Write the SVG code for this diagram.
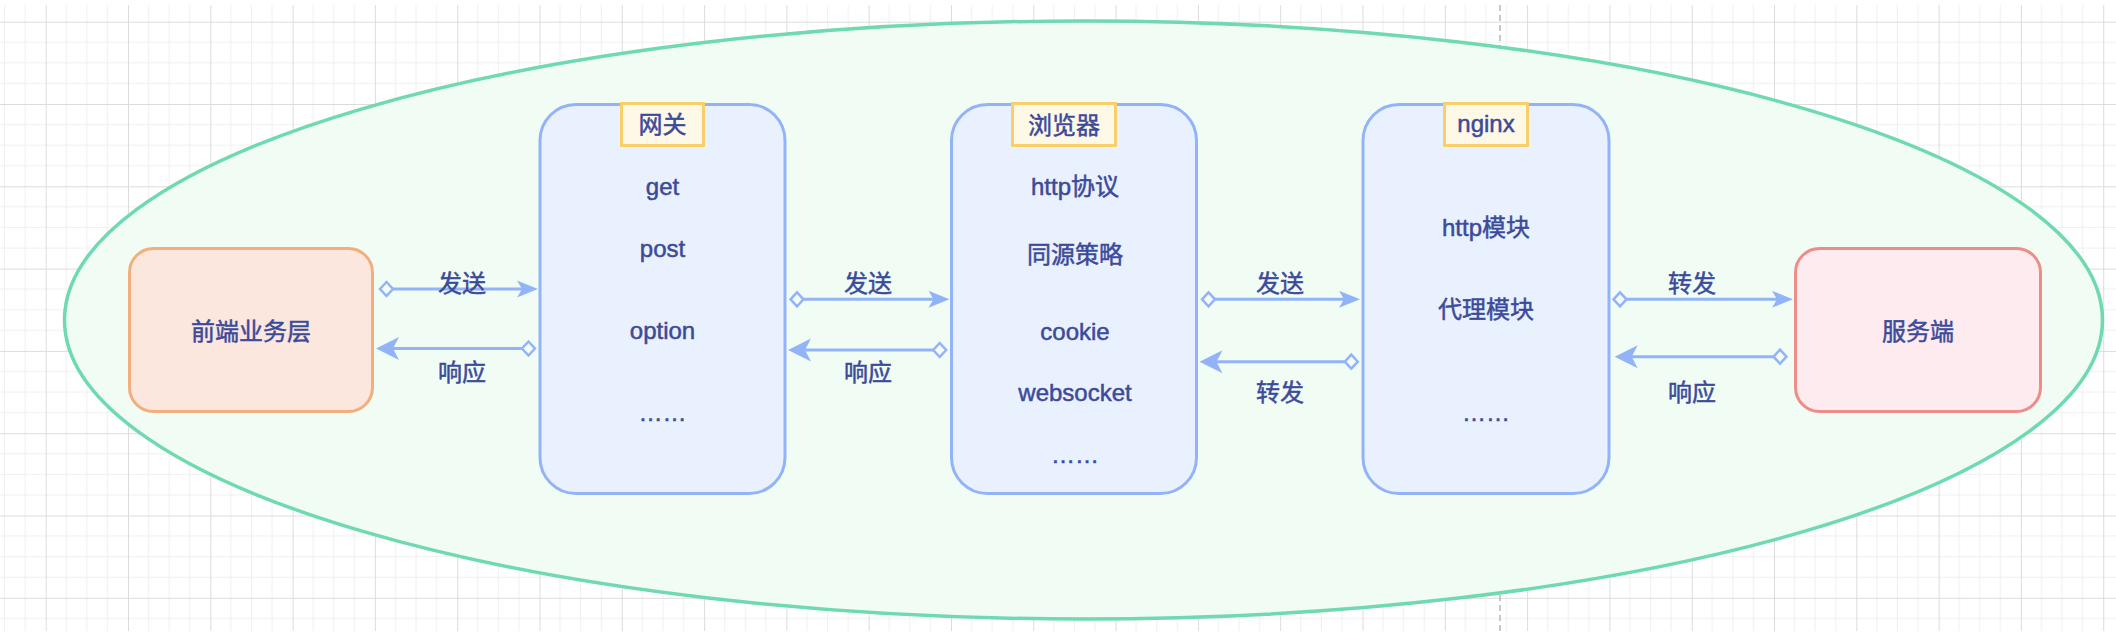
<svg xmlns="http://www.w3.org/2000/svg" width="2116" height="644" viewBox="0 0 2116 644">
  <style>
    .t { font-family: "Liberation Sans", "Noto Sans CJK SC", sans-serif; font-size: 24px; fill: #3c4a9a; stroke: #3c4a9a; stroke-width: 0.5px; text-anchor: middle; }
    .blue { fill: #eaf1fe; stroke: #93b3f8; stroke-width: 3; }
    .tag { fill: #fef8e7; stroke: #f9cf6a; stroke-width: 3; }
    .edge { fill: none; stroke: #93b3f8; stroke-width: 3; marker-start: url(#diamond); }
    .fwd { marker-end: url(#arrowS); }
    .back { marker-end: url(#arrowL); }
  </style>
  <defs>
    <pattern id="grid" patternUnits="userSpaceOnUse" x="45.7" y="21.7" width="82.3" height="82.3">
      <path d="M20.575,0V82.3M41.15,0V82.3M61.725,0V82.3M0,20.575H82.3M0,41.15H82.3M0,61.725H82.3" stroke="#f0f0f0" stroke-width="1" fill="none"/>
      <path d="M0.5,0V82.3M0,0.5H82.3" stroke="#dcdcdc" stroke-width="1" fill="none"/>
    </pattern>
    <marker id="arrowS" markerUnits="userSpaceOnUse" viewBox="0 0 24 20" markerWidth="24" markerHeight="20" refX="12" refY="10" orient="auto">
      <path d="M22,10 L1,1.5 L6,10 L1,18.5 Z" fill="#93b3f8"/>
    </marker>
    <marker id="arrowL" markerUnits="userSpaceOnUse" viewBox="0 0 26 24" markerWidth="26" markerHeight="24" refX="14" refY="12" orient="auto">
      <path d="M24,12 L1,0.5 L7,12 L1,23.5 Z" fill="#93b3f8"/>
    </marker>
    <marker id="diamond" markerUnits="userSpaceOnUse" viewBox="0 0 20 20" markerWidth="20" markerHeight="20" refX="16.5" refY="10" orient="auto">
      <path d="M3.5,10 L10,3 L16.5,10 L10,17 Z" fill="#f4fbf8" stroke="#93b3f8" stroke-width="2.5"/>
    </marker>
  </defs>

  <rect x="0" y="0" width="2116" height="644" fill="#ffffff"/>
  <rect x="0" y="5" width="2116" height="626" fill="url(#grid)"/>
  <line x1="1500" y1="5" x2="1500" y2="631" stroke="#b8b8b8" stroke-width="1.5" stroke-dasharray="6,4"/>

  <g id="container">
    <ellipse cx="1083.5" cy="320" rx="1019" ry="299" fill="#f1fdf4" stroke="#6fd9b1" stroke-width="3.5"/>
  </g>

  <g id="frontend">
    <rect x="129.5" y="248.5" width="243" height="163" rx="24" fill="#fbe7dd" stroke="#f3af7b" stroke-width="3"/>
    <text class="t" x="251" y="340">前端业务层</text>
  </g>

  <g id="gateway">
    <rect class="blue" x="540" y="104.5" width="245" height="389" rx="36"/>
    <rect class="tag" x="621.5" y="103.5" width="82" height="42"/>
    <text class="t" x="662.5" y="133">网关</text>
    <text class="t" x="662.5" y="195">get</text>
    <text class="t" x="662.5" y="257">post</text>
    <text class="t" x="662.5" y="339">option</text>
    <text class="t" x="662.5" y="421">……</text>
  </g>

  <g id="browser">
    <rect class="blue" x="951.5" y="104.5" width="245" height="389" rx="36"/>
    <rect class="tag" x="1012.5" y="103.5" width="103" height="42"/>
    <text class="t" x="1064" y="134">浏览器</text>
    <text class="t" x="1075" y="195">http协议</text>
    <text class="t" x="1075" y="263">同源策略</text>
    <text class="t" x="1075" y="340">cookie</text>
    <text class="t" x="1075" y="401">websocket</text>
    <text class="t" x="1075" y="463">……</text>
  </g>

  <g id="nginx">
    <rect class="blue" x="1363" y="104.5" width="246" height="389" rx="36"/>
    <rect class="tag" x="1444.5" y="103.5" width="83" height="42"/>
    <text class="t" x="1486" y="132">nginx</text>
    <text class="t" x="1486" y="236">http模块</text>
    <text class="t" x="1486" y="318">代理模块</text>
    <text class="t" x="1486" y="421">……</text>
  </g>

  <g id="server">
    <rect x="1795.5" y="248.5" width="245" height="163" rx="24" fill="#fdebef" stroke="#ee8c87" stroke-width="3"/>
    <text class="t" x="1918" y="340">服务端</text>
  </g>

  <g id="connectors">
    <path class="edge fwd" d="M393,289 H528"/>
    <path class="edge back" d="M522,348.5 H386"/>
    <path class="edge fwd" d="M803.5,299.3 H939.5"/>
    <path class="edge back" d="M933.2,350 H798"/>
    <path class="edge fwd" d="M1215,299.3 H1350"/>
    <path class="edge back" d="M1344.8,361.7 H1209.5"/>
    <path class="edge fwd" d="M1626.5,299.3 H1783"/>
    <path class="edge back" d="M1773.5,356.7 H1624.7"/>
    <text class="t" x="462" y="292">发送</text>
    <text class="t" x="462" y="381">响应</text>
    <text class="t" x="868" y="292">发送</text>
    <text class="t" x="868" y="381">响应</text>
    <text class="t" x="1280" y="292">发送</text>
    <text class="t" x="1280" y="401">转发</text>
    <text class="t" x="1692" y="292">转发</text>
    <text class="t" x="1692" y="401">响应</text>
  </g>
</svg>
